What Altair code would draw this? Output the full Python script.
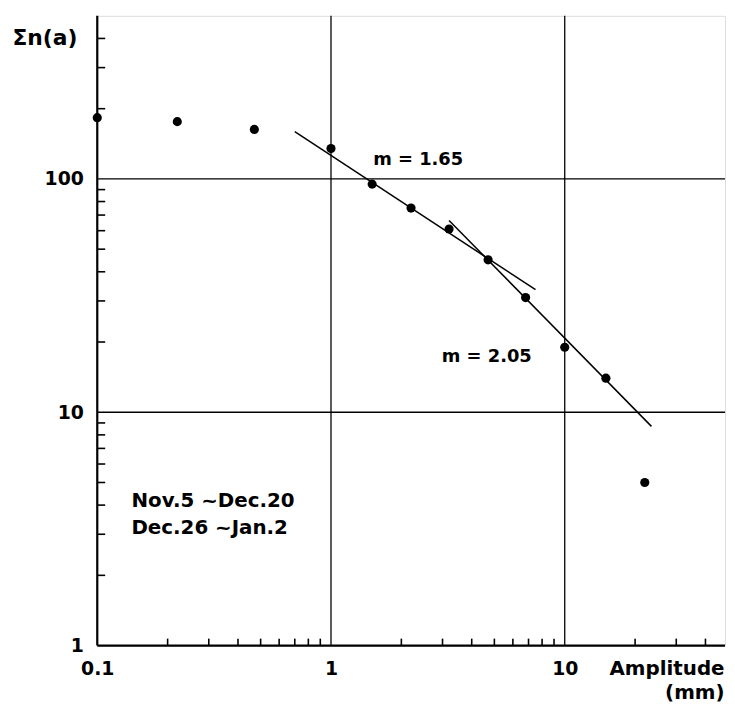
import altair as alt
import pandas as pd

# ---- data ----
amplitude = [0.1, 0.22, 0.47, 1.0, 1.5, 2.2, 3.2, 4.7, 6.8, 10, 15, 22]
cum_count = [183, 176, 163, 135, 95, 75, 61, 45, 31, 19, 14, 5]

fit_a_x = [0.70, 7.5]
fit_a_y = [159.5, 33.5]
fit_b_x = [3.2, 23.5]
fit_b_y = [66.4, 8.7]

x_labels = [0.1, 1, 10]
y_labels = [1, 10, 100]
x_grid = [1, 10]
y_grid = [10, 100]
x_minor = [0.2, 0.3, 0.4, 0.5, 0.6, 0.7, 0.8, 0.9,
           2, 3, 4, 5, 6, 7, 8, 9, 20, 30, 40]
y_minor = [2, 3, 4, 5, 6, 7, 8, 9,
           20, 30, 40, 50, 60, 70, 80, 90, 200, 300, 400]

notes_text = ["m = 1.65", "m = 2.05"]
notes_x = [2.36, 4.64]
notes_y = [121, 17.3]

period_text = ["Nov.5  ~Dec.20", "Dec.26 ~Jan.2"]
period_x = [0.14, 0.14]
period_y = [4.16, 3.2]

W, H = 633, 635
FONT = "DejaVu Sans"
FS = 19

xs = alt.Scale(type="log", domain=[0.1, 48.5], nice=False)
ys = alt.Scale(type="log", domain=[1, 500], nice=False)

xax = alt.Axis(
    values=x_labels, format="~g", tickSize=0, domain=False, grid=False,
    labelPadding=14, labelFont=FONT, labelFontSize=FS, labelFontWeight="bold",
    labelColor="black", labelFlush=False,
    title=["Amplitude", "(mm)"], titleFont=FONT, titleFontSize=20,
    titleFontWeight="bold", titleColor="black", titleAlign="right",
    titleX=W - 1, titleY=23, titleBaseline="middle", titleLineHeight=24)
yax = alt.Axis(
    values=y_labels, format="~g", tickSize=0, domain=False, grid=False,
    labelPadding=14, labelFont=FONT, labelFontSize=FS, labelFontWeight="bold",
    labelColor="black", labelFlush=False,
    title="Σn(a)", titleAngle=0, titleFont=FONT, titleFontSize=22,
    titleFontWeight="bold", titleColor="black", titleAlign="left",
    titleX=-86, titleY=22, titleBaseline="middle")

pts = pd.DataFrame({"amp": amplitude, "n": cum_count})
fits = pd.DataFrame({
    "amp": fit_a_x + fit_b_x,
    "n": fit_a_y + fit_b_y,
    "g": ["a", "a", "b", "b"],
})

gx = alt.Chart(pd.DataFrame({"v": x_grid})).mark_rule(color="black", strokeWidth=1.3).encode(
    x=alt.X("v:Q", scale=xs, axis=xax), y=alt.value(0), y2=alt.value(H))
gy = alt.Chart(pd.DataFrame({"v": y_grid})).mark_rule(color="black", strokeWidth=1.3).encode(
    y=alt.Y("v:Q", scale=ys, axis=yax), x=alt.value(0), x2=alt.value(W))
tx = alt.Chart(pd.DataFrame({"v": x_minor})).mark_rule(color="black", strokeWidth=1.6).encode(
    x=alt.X("v:Q", scale=xs, axis=xax), y=alt.value(H), y2=alt.value(H - 7))
ty = alt.Chart(pd.DataFrame({"v": y_minor})).mark_rule(color="black", strokeWidth=1.6).encode(
    y=alt.Y("v:Q", scale=ys, axis=yax), x=alt.value(0), x2=alt.value(8))
left_edge = alt.Chart(pd.DataFrame({"v": [1]})).mark_rule(color="black", strokeWidth=2.2).encode(
    x=alt.value(0), y=alt.value(0), y2=alt.value(H))
bottom_edge = alt.Chart(pd.DataFrame({"v": [1]})).mark_rule(color="black", strokeWidth=2.2).encode(
    y=alt.value(H), x=alt.value(0), x2=alt.value(W))

lines = alt.Chart(fits).mark_line(color="black", strokeWidth=1.5).encode(
    x=alt.X("amp:Q", scale=xs, axis=xax),
    y=alt.Y("n:Q", scale=ys, axis=yax),
    detail="g:N")

points = alt.Chart(pts).mark_circle(color="black", opacity=1, size=85).encode(
    x=alt.X("amp:Q", scale=xs, axis=xax),
    y=alt.Y("n:Q", scale=ys, axis=yax))

notes = alt.Chart(pd.DataFrame({"t": notes_text, "x": notes_x, "y": notes_y})).mark_text(
    font=FONT, fontSize=18, fontWeight="bold", color="black", align="center", baseline="middle").encode(
    x=alt.X("x:Q", scale=xs, axis=xax), y=alt.Y("y:Q", scale=ys, axis=yax), text="t:N")

period = alt.Chart(pd.DataFrame({"t": period_text, "x": period_x, "y": period_y})).mark_text(
    font=FONT, fontSize=20, fontWeight="bold", color="black", align="left", baseline="middle").encode(
    x=alt.X("x:Q", scale=xs, axis=xax), y=alt.Y("y:Q", scale=ys, axis=yax), text="t:N")

chart = alt.layer(gx, gy, tx, ty, left_edge, bottom_edge, lines, points, notes, period).properties(
    width=W, height=H,
    autosize=alt.AutoSizeParams(type="none"),
    padding={"left": 90, "top": 5, "right": 2, "bottom": 55},
).configure_view(stroke="black", strokeWidth=1.5).configure(background="white")

chart.save("out.html", embed_options={"renderer": "svg", "actions": False})
